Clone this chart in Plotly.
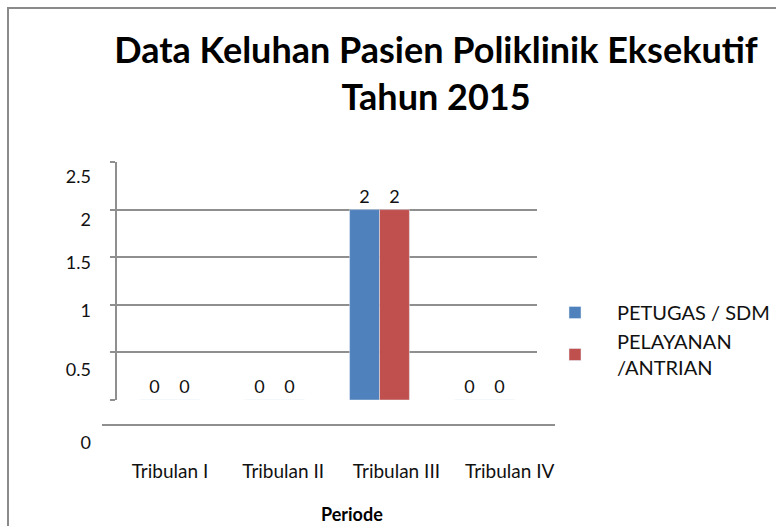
import plotly.graph_objects as go

# ---- data ----
categories = ["Tribulan I", "Tribulan II", "Tribulan III", "Tribulan IV"]
petugas_sdm = [0, 0, 2, 0]
pelayanan_antrian = [0, 0, 2, 0]
series_names = ["PETUGAS / SDM", "PELAYANAN<br>/ANTRIAN"]
y_tick_labels = ["2.5", "2", "1.5", "1", "0.5", "0"]
grid_values = [0.5, 1, 1.5, 2, 2.5]

# ---- layout helpers (pixel geometry of the picture) ----
W, H = 776, 526
L, R = 100, 570      # paper x extent in px
T, B = 162, 460      # paper y extent in px
def fx(px):
    return (px - L) / (R - L)
def fy(py):
    return (B - py) / (B - T)

unit = (400 - 162) / 2.5          # px per value unit
def val(py):
    return (400 - py) / unit

label_px = [176.7, 220, 262.7, 311, 370, 443]   # perspective-shifted label positions

BLUE = "#4F81BD"
RED = "#C0504D"
GRID = "#8f8f8f"
FONT = "Lato"

fig = go.Figure()
fig.add_trace(go.Bar(x=categories, y=petugas_sdm, name=series_names[0],
                     marker_color=BLUE, text=petugas_sdm, textposition="outside",
                     textfont=dict(family=FONT, size=18, color="#111"),
                     cliponaxis=False))
fig.add_trace(go.Bar(x=categories, y=pelayanan_antrian, name=series_names[1],
                     marker_color=RED, text=pelayanan_antrian, textposition="outside",
                     textfont=dict(family=FONT, size=18, color="#111"),
                     cliponaxis=False))
# helper trace to realise the secondary (label / floor) axes
fig.add_trace(go.Scatter(x=[], y=[], xaxis="x2", yaxis="y2", showlegend=False,
                         hoverinfo="skip"))

fig.update_layout(
    width=W, height=H,
    margin=dict(l=L, r=W - R, t=T, b=H - B, autoexpand=False),
    paper_bgcolor="white", plot_bgcolor="rgba(0,0,0,0)",
    barmode="group", bargap=0.43, bargroupgap=0,
    font=dict(family=FONT, color="#111"),
    title=dict(text="<b>Data Keluhan Pasien Poliklinik Eksekutif<br>Tahun 2015</b>",
               font=dict(family=FONT, size=36, color="#000"),
               x=436 / W, xref="container", xanchor="center",
               y=1 - 63 / H, yref="container", yanchor="middle"),
    xaxis=dict(domain=[fx(117), fx(537)], anchor="y", type="category",
               showticklabels=False, showline=False, ticks="", showgrid=False,
               zeroline=False),
    yaxis=dict(domain=[fy(400), 1], anchor="x", range=[0, 2.5],
               tickvals=grid_values, showticklabels=False,
               showgrid=True, gridcolor=GRID, gridwidth=1.5,
               ticks="outside", ticklen=5, tickcolor=GRID, tickwidth=1.5,
               showline=True, linecolor=GRID, linewidth=1.5, zeroline=False,
               minor=dict(tickvals=[0], ticks="outside", ticklen=5,
                          tickcolor=GRID, showgrid=False)),
    xaxis2=dict(domain=[fx(102), fx(555)], anchor="free", position=fy(425),
                range=[-0.6, 3.4], tickvals=list(range(len(categories))),
                ticktext=categories, showgrid=False, zeroline=False,
                showline=True, linecolor=GRID, linewidth=1.5, ticks="",
                ticklabelstandoff=29,
                tickfont=dict(family=FONT, size=19, color="#111")),
    yaxis2=dict(domain=[0, 1], anchor="free", position=0,
                range=[val(B), val(T)], tickvals=[val(p) for p in label_px],
                ticktext=y_tick_labels, showgrid=False, zeroline=False,
                showline=False, ticks="", ticklabelstandoff=9,
                tickfont=dict(family=FONT, size=18, color="#111")),
    legend=dict(x=fx(533), xanchor="left", y=fy(293), yanchor="top",
                font=dict(family=FONT, size=20, color="#111"),
                bgcolor="rgba(0,0,0,0)", tracegroupgap=0, itemwidth=74),
    showlegend=True,
)

fig.add_annotation(text="<b>Periode</b>", xref="paper", yref="paper",
                   x=fx(352), y=fy(514), xanchor="center", yanchor="middle",
                   showarrow=False, font=dict(family=FONT, size=18, color="#000"))

# outer chart frame
fig.add_shape(type="rect", xref="paper", yref="paper",
              x0=fx(8), x1=fx(790), y0=fy(540), y1=fy(8),
              line=dict(color="#8a8a8a", width=2), fillcolor="rgba(0,0,0,0)",
              layer="below")

fig.write_html("out.html",
               config={"displayModeBar": False},
               post_script="document.body.style.margin='0';")
